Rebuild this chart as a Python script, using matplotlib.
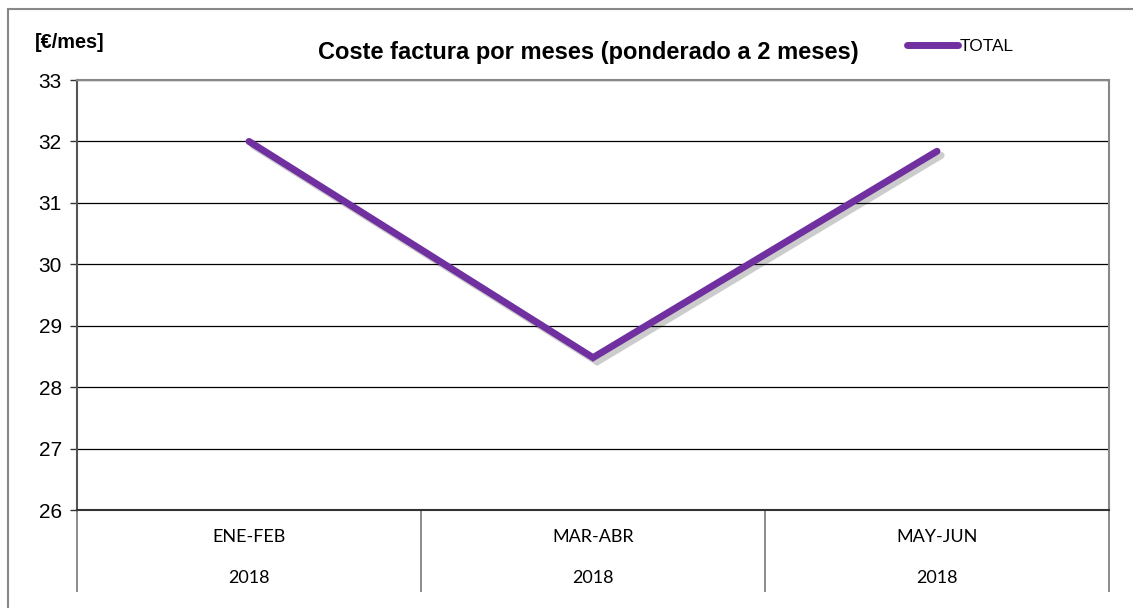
import matplotlib
matplotlib.use("Agg")
import matplotlib.pyplot as plt
import matplotlib.patheffects as pe
from matplotlib.patches import Rectangle
from matplotlib.lines import Line2D

periods = ["ENE-FEB", "MAR-ABR", "MAY-JUN"]
years = ["2018", "2018", "2018"]
total = [32.0, 28.48, 31.84]
y_ticks = [26, 27, 28, 29, 30, 31, 32, 33]

PURPLE = "#7030A0"
W, H = 1133, 608

plt.rcParams["font.family"] = ["Liberation Sans", "DejaVu Sans"]
fig = plt.figure(figsize=(W / 100, H / 100), dpi=100)

# outer chart frame (only left and top edges visible)
fig.patches.append(Rectangle((8 / W, -0.1), 1.2, 1 - 9 / H + 0.1, transform=fig.transFigure,
                             fill=False, edgecolor="#888888", lw=1.5))

ax = fig.add_axes([77 / W, 1 - 510 / H, (1109 - 77) / W, (510 - 80) / H])

x = [i + 0.5 for i in range(len(total))]
ax.plot(x, total, color=PURPLE, lw=5, solid_capstyle="round", solid_joinstyle="miter",
        path_effects=[pe.SimpleLineShadow(offset=(3, -3), shadow_color="#000000", alpha=0.2, rho=1),
                      pe.Normal()])

ax.set_xlim(0, len(total))
ax.set_ylim(26, 33)
ax.set_yticks(y_ticks)
ax.yaxis.grid(color="black", lw=0.9)
ax.set_axisbelow(True)
ax.tick_params(axis="y", length=5, width=1, color="#333333", labelsize=15, pad=6)

for s in ["top", "right"]:
    ax.spines[s].set_color("#888888")
    ax.spines[s].set_linewidth(1.5)
ax.spines["left"].set_color("#555555")
ax.spines["left"].set_linewidth(1.5)
ax.spines["bottom"].set_color("#333333")
ax.spines["bottom"].set_linewidth(1.5)

# category axis with separators
ax.set_xticks(range(len(total) + 1))
ax.set_xticklabels([])
ax.tick_params(axis="x", length=59, width=1.2, color="#777777")

for i, (p, yr) in enumerate(zip(periods, years)):
    ax.text(i + 0.5, -27 / 430, p, transform=ax.get_xaxis_transform(), ha="center", va="center",
            fontsize=13, family=["Lato", "DejaVu Sans"])
    ax.text(i + 0.5, -68 / 430, yr, transform=ax.get_xaxis_transform(), ha="center", va="center",
            fontsize=13, family=["Lato", "DejaVu Sans"])

fig.text(588 / W, 1 - 52 / H, "Coste factura por meses (ponderado a 2 meses)", ha="center", va="center",
         fontsize=17, fontweight="bold")
fig.text(35 / W, 1 - 43 / H, "[€/mes]", ha="left", va="center", fontsize=14.3, fontweight="bold")

handle = Line2D([], [], color=PURPLE, lw=5, solid_capstyle="round")
ax.legend([handle], ["TOTAL"], loc="center left", bbox_to_anchor=(898 / W, 1 - 46 / H),
          bbox_transform=fig.transFigure, frameon=False, handlelength=3.0, handletextpad=0.1,
          borderpad=0, fontsize=12.4)

plt.savefig("out.png", dpi=100)
